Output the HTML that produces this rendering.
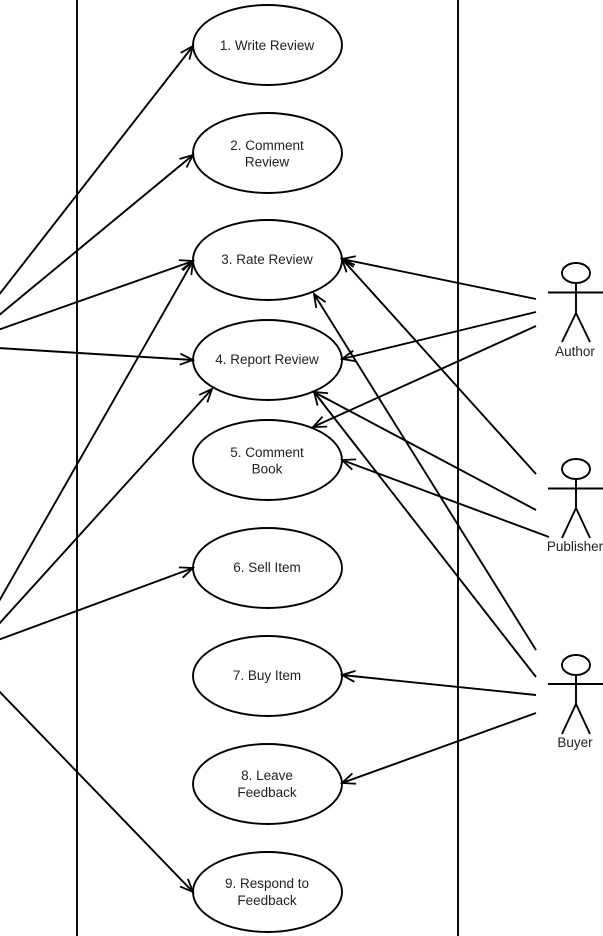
<!DOCTYPE html>
<html>
<head>
<meta charset="utf-8">
<style>
html,body{margin:0;padding:0;background:#fff;width:603px;height:936px;overflow:hidden}
svg{display:block}
text{font-family:"Liberation Sans",Arial,sans-serif;font-size:13.5px;fill:#222;text-anchor:middle}
</style>
</head>
<body>
<svg width="603" height="936" viewBox="0 0 603 936" xmlns="http://www.w3.org/2000/svg">
<defs>
<marker id="a" markerUnits="userSpaceOnUse" markerWidth="20" markerHeight="20" refX="14" refY="10" orient="auto">
<path d="M1 4.5 L14 10 L1 15.5" fill="none" stroke="#000" stroke-width="1.8"/>
</marker>
</defs>
<g stroke="#000" stroke-width="1.9" fill="none">
<line x1="77" y1="0" x2="77" y2="936"/>
<line x1="458" y1="0" x2="458" y2="936"/>
<ellipse cx="267.5" cy="45" rx="74.5" ry="40"/>
<ellipse cx="267.5" cy="153" rx="74.5" ry="40"/>
<ellipse cx="267.5" cy="260" rx="74.5" ry="40"/>
<ellipse cx="267.5" cy="360" rx="74.5" ry="40"/>
<ellipse cx="267.5" cy="460" rx="74.5" ry="40"/>
<ellipse cx="267.5" cy="568" rx="74.5" ry="40"/>
<ellipse cx="267.5" cy="676" rx="74.5" ry="40"/>
<ellipse cx="267.5" cy="784" rx="74.5" ry="40"/>
<ellipse cx="267.5" cy="892" rx="74.5" ry="40"/>
<g marker-end="url(#a)">
<line x1="-2" y1="296" x2="193" y2="46"/>
<line x1="-2" y1="316" x2="193" y2="155"/>
<line x1="-2" y1="330" x2="193" y2="261"/>
<line x1="-2" y1="603" x2="193" y2="261"/>
<line x1="-2" y1="348" x2="193" y2="360"/>
<line x1="-2" y1="625" x2="212" y2="389"/>
<line x1="-2" y1="640" x2="193" y2="568"/>
<line x1="-2" y1="690" x2="193" y2="892"/>
<line x1="536" y1="299" x2="342" y2="259"/>
<line x1="536" y1="312" x2="342" y2="359"/>
<line x1="536" y1="326" x2="313" y2="427"/>
<line x1="536" y1="474" x2="342" y2="259"/>
<line x1="536" y1="510" x2="314" y2="392"/>
<line x1="549" y1="537" x2="342" y2="460"/>
<line x1="536" y1="650" x2="314" y2="294"/>
<line x1="536" y1="677" x2="314" y2="392"/>
<line x1="536" y1="695" x2="342" y2="675"/>
<line x1="536" y1="713" x2="342" y2="783"/>
</g>
<!-- Author -->
<ellipse cx="576" cy="273" rx="14" ry="10"/>
<path d="M548 292.5H603M576 283V313M562 342L576 313L590 342"/>
<!-- Publisher -->
<ellipse cx="576" cy="469" rx="14" ry="10"/>
<path d="M548 488.5H603M576 479V508M562 538L576 508L590 538"/>
<!-- Buyer -->
<ellipse cx="576" cy="665" rx="14" ry="10"/>
<path d="M548 684H603M576 675V704M562 734L576 704L590 734"/>
</g>
<text x="267" y="50">1. Write Review</text>
<text x="267" y="150">2. Comment</text>
<text x="267" y="166.5">Review</text>
<text x="267" y="264">3. Rate Review</text>
<text x="267" y="364">4. Report Review</text>
<text x="267" y="457">5. Comment</text>
<text x="267" y="473.5">Book</text>
<text x="267" y="572">6. Sell Item</text>
<text x="267" y="680">7. Buy Item</text>
<text x="267" y="780">8. Leave</text>
<text x="267" y="797">Feedback</text>
<text x="267" y="888">9. Respond to</text>
<text x="267" y="905">Feedback</text>
<text x="575" y="356">Author</text>
<text x="575" y="551">Publisher</text>
<text x="575" y="747">Buyer</text>
</svg>
</body>
</html>
